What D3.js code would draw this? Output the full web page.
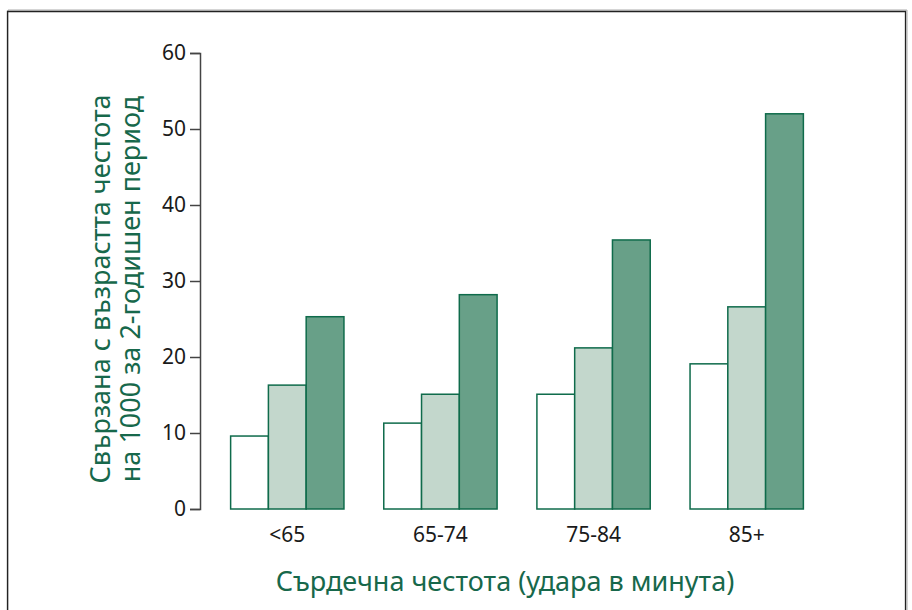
<!DOCTYPE html>
<html lang="bg">
<head>
<meta charset="utf-8">
<script src="https://cdn.jsdelivr.net/npm/d3@7"></script>
<style>
  body { margin: 0; background: #fff; }
  svg { display: block; font-family: "Noto Sans", "Open Sans", sans-serif; }
</style>
</head>
<body>
<div id="chart"></div>
<script>
  var categories = ["<65", "65-74", "75-84", "85+"],
      seriesNames = ["a", "b", "c"],
      seriesA = [9.6, 11.3, 15.1, 19.1],
      seriesB = [16.3, 15.1, 21.2, 26.6],
      seriesC = [25.3, 28.2, 35.4, 52.0],
      yTicks = [0, 10, 20, 30, 40, 50, 60];

  var width = 912,
      height = 610;

  var fills = ["#ffffff", "#c3d7cc", "#68a088"],
      strokeColor = "#0f6b4b",
      titleColor = "#17684b";

  var svg = d3.select("#chart").append("svg")
      .attr("width", width)
      .attr("height", height);

  // frame with a light shadow
  svg.append("path")
      .attr("d", "M8,625V10H907V625")
      .attr("fill", "none")
      .attr("stroke", "#aaa")
      .attr("stroke-width", 1);
  svg.append("path")
      .attr("d", "M7.5,625V11.5H905.5V625")
      .attr("fill", "none")
      .attr("stroke", "#222")
      .attr("stroke-width", 1.3);

  var x = d3.scaleBand()
      .domain(categories)
      .range([200, 834])
      .paddingInner(0.26)
      .paddingOuter(0.2);

  var xs = d3.scaleBand()
      .domain(seriesNames)
      .range([0, x.bandwidth()]);

  var y = d3.scaleLinear()
      .domain([0, 60])
      .range([509, 53]);

  var rows = categories.map((c, i) => ({
    cat: c,
    values: [seriesA[i], seriesB[i], seriesC[i]]
  }));

  svg.append("g")
    .selectAll("g")
    .data(rows)
    .join("g")
      .attr("transform", d => `translate(${x(d.cat)},0)`)
    .selectAll("rect")
    .data(d => d.values.map((v, j) => ({ key: seriesNames[j], v: v, j: j })))
    .join("rect")
      .attr("x", d => xs(d.key))
      .attr("y", d => y(d.v))
      .attr("width", xs.bandwidth())
      .attr("height", d => y(0) - y(d.v))
      .attr("fill", d => fills[d.j])
      .attr("stroke", strokeColor)
      .attr("stroke-width", 1.5);

  var yAxis = d3.axisLeft(y)
      .tickValues(yTicks)
      .tickSize(10)
      .tickPadding(4)
      .tickFormat(d3.format("d"));

  svg.append("g")
      .attr("transform", "translate(200,0)")
      .call(yAxis)
      .call(g => g.select(".domain").attr("stroke", "#444").attr("stroke-width", 1.5))
      .call(g => g.selectAll(".tick line").attr("stroke", "#444").attr("stroke-width", 1.5))
      .call(g => g.selectAll(".tick text")
        .attr("font-size", 21)
        .attr("fill", "#1a1a1a")
        .attr("font-family", "'Noto Sans', sans-serif"));

  var xAxis = d3.axisBottom(x)
      .tickSize(0)
      .tickPadding(18);

  svg.append("g")
      .attr("transform", "translate(0,509)")
      .call(xAxis)
      .call(g => g.select(".domain").remove())
      .call(g => g.selectAll(".tick text")
        .attr("font-size", 21)
        .attr("fill", "#1a1a1a")
        .attr("font-family", "'Noto Sans', sans-serif"));

  // axis titles
  svg.append("text")
      .attr("x", 505)
      .attr("y", 591)
      .attr("text-anchor", "middle")
      .attr("font-size", 27)
      .attr("fill", titleColor)
      .text("Сърдечна честота (удара в минута)");

  var yTitle = svg.append("text")
      .attr("transform", "translate(0,289) rotate(-90)")
      .attr("text-anchor", "middle")
      .attr("font-size", 27)
      .attr("fill", titleColor);
  yTitle.append("tspan").attr("x", 0).attr("y", 110).text("Свързана с възрастта честота");
  yTitle.append("tspan").attr("x", 0).attr("y", 140).text("на 1000 за 2-годишен период");
</script>
</body>
</html>
